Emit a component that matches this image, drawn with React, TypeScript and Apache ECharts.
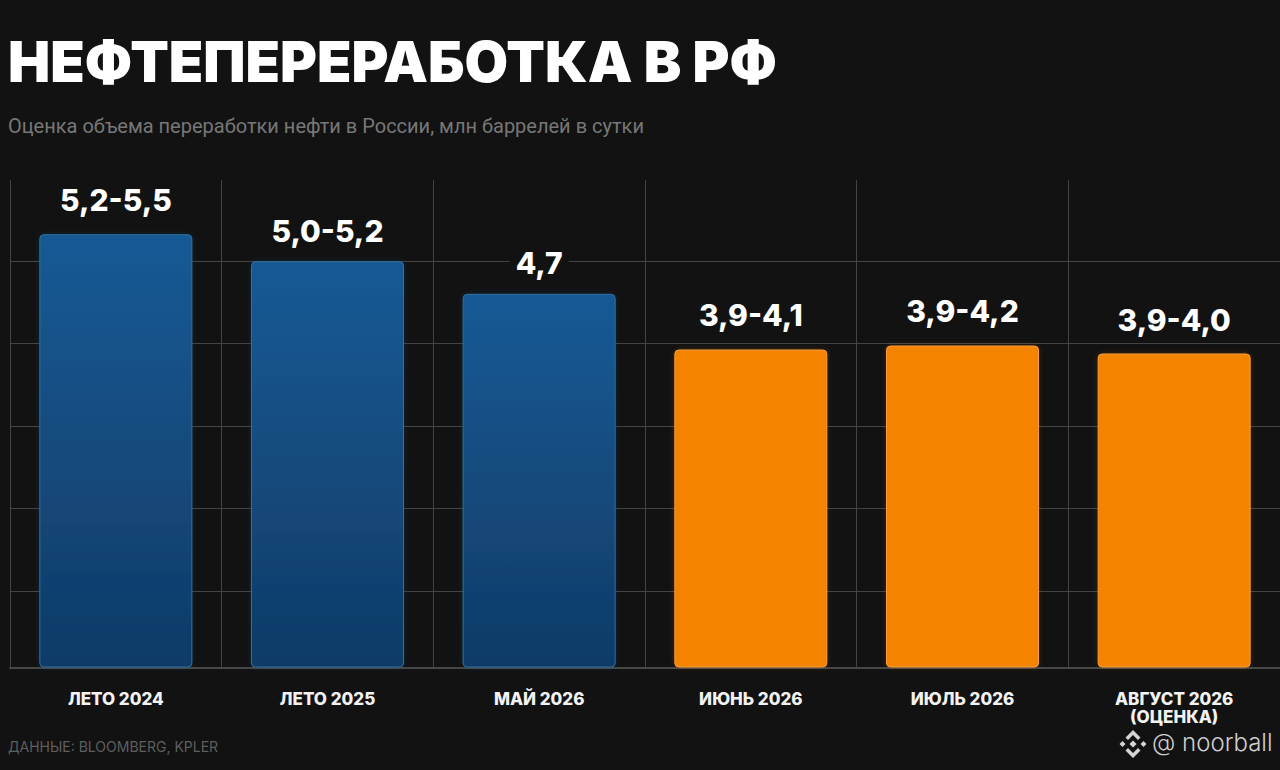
import React, { useEffect, useRef } from "react";
import * as echarts from "echarts";

const titleText = "НЕФТЕПЕРЕРАБОТКА В РФ";
const subtitleText = "Оценка объема переработки нефти в России, млн баррелей в сутки";
const sourceText = "ДАННЫЕ: BLOOMBERG, KPLER";
const watermarkText = "@ noorball";
const categories = ["ЛЕТО 2024", "ЛЕТО 2025", "МАЙ 2026", "ИЮНЬ 2026", "ИЮЛЬ 2026", "АВГУСТ 2026\n(ОЦЕНКА)"];
const barValues = [5.45, 5.11, 4.7, 4.0, 4.05, 3.95];
const valueLabels = ["5,2-5,5", "5,0-5,2", "4,7", "3,9-4,1", "3,9-4,2", "3,9-4,0"];
const kinds = ["past", "past", "past", "recent", "recent", "recent"];
const labelDistances = [19, 15, 16, 19, 20, 18];

const FONT = "Inter, 'Noto Sans', sans-serif";
const LOGO_PATH =
  "M14 0L21.5 7.5L19 10L14 5L9 10L6.5 7.5Z M14 28L21.5 20.5L19 18L14 23L9 18L6.5 20.5Z M14 10.4L17.6 14L14 17.6L10.4 14Z M0.5 14L3.5 11L6.5 14L3.5 17Z M27.5 14L24.5 11L21.5 14L24.5 17Z";
const grad = (a: string, b: string) => new echarts.graphic.LinearGradient(0, 0, 0, 1, [
  { offset: 0, color: a }, { offset: 1, color: b },
]);

export default function App() {
  const ref = useRef<HTMLDivElement>(null);
  useEffect(() => {
    document.body.style.margin = "0";
    document.body.style.background = "#121212";
    const chart = echarts.init(ref.current!, undefined, { renderer: "svg" });
    echarts.graphic.registerShape("bnbLogo", echarts.graphic.extendPath(LOGO_PATH, {}));
    chart.setOption({
      animation: false,
      backgroundColor: "#121212",
      title: [
        { text: titleText, left: 3, top: 28, textStyle: { color: "#ffffff", fontFamily: FONT, fontWeight: 900, fontSize: 56.3 } },
        { text: subtitleText, left: 3, top: 111, textStyle: { color: "#777777", fontFamily: "Roboto, sans-serif", fontWeight: 400, fontSize: 20 } },
        { text: sourceText, left: 3, top: 734, textStyle: { color: "#5e5e5e", fontFamily: FONT, fontWeight: 400, fontSize: 14 } },
      ],
      grid: [
        { left: 10, right: 0, top: 180, bottom: 102.5 },
        { left: 10, right: 0, top: 178.5, bottom: 96.5 },
      ],
      xAxis: [
        {
          type: "category", data: categories, gridIndex: 0,
          axisTick: { show: false },
          axisLine: { show: true, lineStyle: { color: "#5a5a5a", width: 1.5 } },
          splitLine: { show: true, showMinLine: true, showMaxLine: true, lineStyle: { color: "#444444", width: 1 } },
          axisLabel: {
            color: "#f2f2f2", fontFamily: FONT, fontWeight: 800, fontSize: 17, lineHeight: 18, margin: 22,
            interval: 0,
          },
        },
        { type: "category", data: categories, gridIndex: 1, show: false },
      ],
      yAxis: [
        { type: "value", gridIndex: 0, min: 0, max: 6.132, show: false, splitLine: { show: false } },
        {
          type: "value", gridIndex: 1, min: 0, max: 6, interval: 1,
          axisLine: { show: false }, axisTick: { show: false }, axisLabel: { show: false },
          splitLine: { show: true, showMinLine: false, showMaxLine: false, lineStyle: { color: "#444444", width: 1 } },
        },
      ],
      series: [
        {
          type: "bar", xAxisIndex: 0, yAxisIndex: 0, barWidth: 153, z: 3,
          data: barValues.map((v, i) => {
            const past = kinds[i] === "past";
            return {
              value: v,
              itemStyle: {
                color: past ? grad("#165a95", "#103b66") : "#f48405",
                borderColor: past ? "#33709f" : "#f99c3a",
                borderWidth: 1,
                borderRadius: 4,
                shadowColor: past ? "rgba(20,90,160,0.3)" : "rgba(245,133,10,0.2)",
                shadowBlur: 5,
              },
              label: {
                show: true, position: "top", distance: labelDistances[i],
                formatter: () => valueLabels[i],
                color: "#ffffff", fontFamily: FONT, fontWeight: 800, fontSize: 30,
                backgroundColor: "#121212", padding: [0, 6],
              },
            };
          }),
        },
      ],
      graphic: [
        { type: "bnbLogo", x: 1119, y: 730, style: { fill: "#d4d4d4" }, z: 10 },
        {
          type: "text", x: 1152, y: 730, z: 10,
          style: { text: watermarkText, fill: "#cfcfcf", font: "300 24px Inter, sans-serif" },
        },
      ],
    });
    return () => chart.dispose();
  }, []);
  return <div ref={ref} style={{ position: "fixed", left: 0, top: 0, width: 1280, height: 770 }} />;
}
